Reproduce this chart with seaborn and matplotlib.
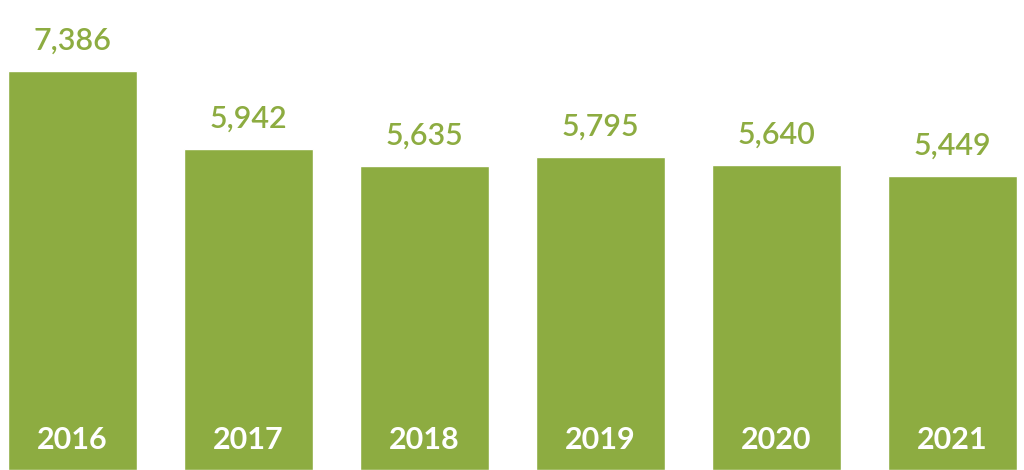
import matplotlib
matplotlib.use("Agg")
import matplotlib.pyplot as plt
import seaborn as sns
import pandas as pd

years = ["2016", "2017", "2018", "2019", "2020", "2021"]
values = [7386, 5942, 5635, 5795, 5640, 5449]

green = "#8DAC41"

sns.set_style("white")
plt.rcParams["font.family"] = ["Lato", "DejaVu Sans"]

df = pd.DataFrame({"year": years, "value": values})

fig = plt.figure(figsize=(10.24, 4.70), dpi=100)
ax = fig.add_axes([0, 0, 1, 1])
sns.barplot(data=df, x="year", y="value", color=green, saturation=1, width=0.733, ax=ax)

ax.set_xlim(-0.412, 5.406)
ax.set_ylim(0, 8700)
ax.axis("off")

for i, v in enumerate(values):
    ax.text(i, v + 300, f"{v:,}", ha="center", va="bottom", color=green,
            fontsize=22, fontweight="semibold")
    ax.text(i, 560, years[i], ha="center", va="center", color="white",
            fontsize=22, fontweight="bold")

fig.savefig("out.png", dpi=100)
